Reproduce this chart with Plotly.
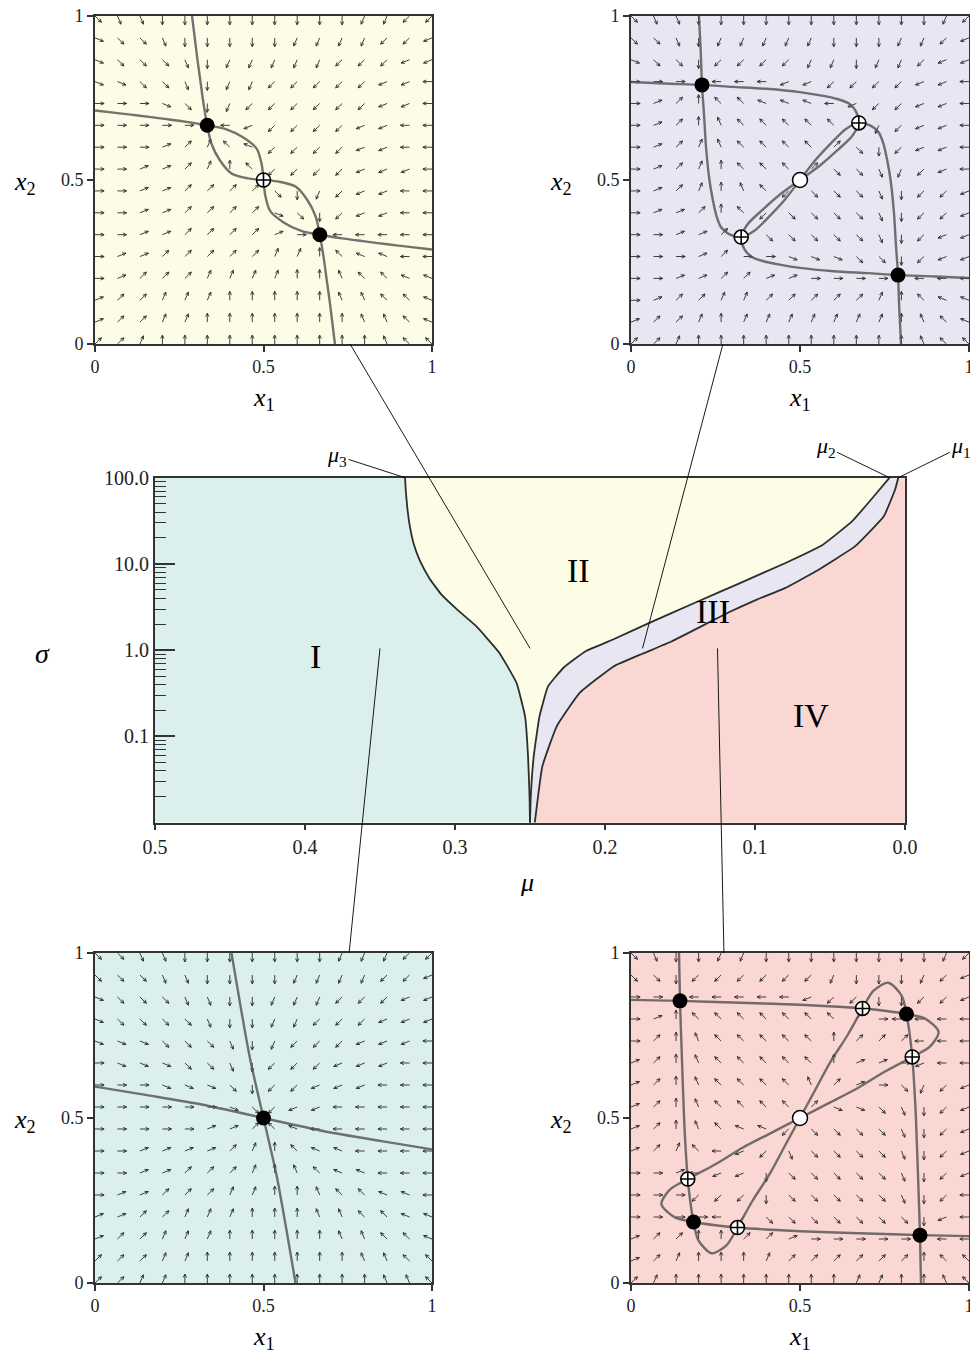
import math
import plotly.graph_objects as go
import plotly.figure_factory as ff

# page is 978 x 1353; the browser puts the figure 8 px in from the top-left corner
PAGE_W, PAGE_H = 978, 1353
OFF = 8
FW, FH = PAGE_W - OFF, PAGE_H - OFF
SERIF = "Liberation Serif, Times New Roman, serif"
INK = "#333333"

# region colours (shared by the phase diagram and the phase portraits)
C_I = "#dbf0ed"
C_II = "#fdfde7"
C_III = "#e7e6f2"
C_IV = "#fbd7d3"

# ---------------- phase portraits ----------------
grid = [0.0, 0.0667, 0.1333, 0.2, 0.2667, 0.3333, 0.4, 0.4667,
        0.5333, 0.6, 0.6667, 0.7333, 0.8, 0.8667, 0.9333, 1.0]

# arrow direction per grid point, rows from x2=1 (top) down to x2=0,
# hex digit k -> k*22.5 deg counter-clockwise from +x1, "." = no arrow (fixed point)
dirs_I = [
    "eeddcccccccbbbaa",
    "eeeddccccbbbbaa9",
    "feeeddccbbbaaa99",
    "feeeedccbbaaa999",
    "fffeeedcbaaa9998",
    "0fffeedcaaa99988",
    "000fffecaa999888",
    "000000fea9988888",
    "0000011267888888",
    "0011112346778888",
    "0011222345677888",
    "0112223344566778",
    "1122333444556677",
    "1223334444455667",
    "2223344444445566",
    "2233444444444556",
]
dirs_II = [
    "eddcccccccccbbaa",
    "feedcccccbbbbaa9",
    "feeedcbbbbbaaa99",
    "ffeedcbbaaaaa998",
    "000fecbaaaaaa998",
    "00000.89aaaa9988",
    "00012367aaaa9988",
    "00112346aaaa9998",
    "00112222ecba9988",
    "00112222feca9988",
    "0011222210.88888",
    "0112222233467788",
    "0122233334456677",
    "1223334444455667",
    "1223344444445567",
    "2234444444444566",
]
dirs_III = [
    "eddcccccccccccba",
    "eedcbbbbbcccbba9",
    "feecaaaabbcbba99",
    "000.88899aaaa998",
    "01246677789aa998",
    "0124566666.ba998",
    "0123566662eca998",
    "012346662eedba98",
    "0123456aeeedcaa9",
    "011246aeeeedcaa9",
    "00112.eeeeedca99",
    "0001200fffeeca99",
    "001122110000.888",
    "0122332222234677",
    "1223433333334567",
    "2234444444444566",
]
dirs_IV = [
    "edccbbccccccccba",
    "eecaaaaaabcccba9",
    "00.888889aaccaa9",
    "0146666666208888",
    "0245666664222888",
    "1245666664110988",
    "124566665210eba9",
    "124566662ffedca9",
    "1245677aeeeedca9",
    "123689adeeeedca9",
    "001899ceeeeedca9",
    "000aaaceeeeedca8",
    "00008aeeeeeeec98",
    "1224422100000.88",
    "1234443222222466",
    "2344444444334456",
]

# x1-nullcline of each portrait; the x2-nullcline is its mirror image (x1 <-> x2)
nc_I_x1 = [0.405, 0.43, 0.46, 0.5, 0.54, 0.57, 0.595]
nc_I_x2 = [1.0, 0.85, 0.68, 0.5, 0.32, 0.15, 0.0]

nc_II_x1 = [0.288, 0.296, 0.304, 0.313, 0.322, 0.333, 0.345, 0.37, 0.405, 0.454, 0.5,
            0.546, 0.595, 0.63, 0.655, 0.667, 0.678, 0.687, 0.696, 0.704, 0.712]
nc_II_x2 = [1.0, 0.933, 0.867, 0.8, 0.733, 0.667, 0.612, 0.561, 0.52, 0.505, 0.5,
            0.495, 0.48, 0.439, 0.388, 0.333, 0.267, 0.2, 0.133, 0.067, 0.0]

nc_III_x1 = [0.201, 0.206, 0.21, 0.216, 0.222, 0.232, 0.242, 0.253, 0.267, 0.29, 0.326,
             0.365, 0.41, 0.455, 0.5, 0.545, 0.59, 0.635, 0.674, 0.71, 0.733, 0.747,
             0.758, 0.768, 0.778, 0.784, 0.79, 0.794, 0.799]
nc_III_x2 = [1.0, 0.9, 0.79, 0.7, 0.6, 0.5, 0.44, 0.39, 0.355, 0.335, 0.326,
             0.345, 0.39, 0.44, 0.5, 0.56, 0.61, 0.655, 0.674, 0.665, 0.645, 0.61,
             0.56, 0.5, 0.4, 0.3, 0.21, 0.1, 0.0]

nc_IV_x1 = [0.142, 0.145, 0.15, 0.157, 0.162, 0.168, 0.175, 0.185, 0.199, 0.239, 0.283,
            0.315, 0.36, 0.41, 0.455, 0.5, 0.545, 0.59, 0.64, 0.685, 0.717, 0.761,
            0.801, 0.815, 0.825, 0.832, 0.838, 0.843, 0.85, 0.855, 0.858]
nc_IV_x2 = [1.0, 0.855, 0.7, 0.5, 0.4, 0.315, 0.25, 0.185, 0.13, 0.09, 0.115,
            0.168, 0.25, 0.33, 0.415, 0.5, 0.585, 0.67, 0.75, 0.832, 0.885, 0.91,
            0.87, 0.815, 0.75, 0.685, 0.6, 0.5, 0.3, 0.145, 0.0]

# fixed points: (x1 list, x2 list)
stable_I = ([0.5], [0.5])
saddle_I = ([], [])
source_I = ([], [])

stable_II = ([0.333, 0.667], [0.667, 0.333])
saddle_II = ([0.5], [0.5])
source_II = ([], [])

stable_III = ([0.21, 0.79], [0.79, 0.21])
saddle_III = ([0.326, 0.674], [0.326, 0.674])
source_III = ([0.5], [0.5])

stable_IV = ([0.145, 0.855, 0.185, 0.815], [0.855, 0.145, 0.185, 0.815])
saddle_IV = ([0.315, 0.168, 0.685, 0.832], [0.168, 0.315, 0.832, 0.685])
source_IV = ([0.5], [0.5])

# ---------------- phase diagram ----------------
mu3_mu = [0.3333, 0.3328, 0.3318, 0.3302, 0.3275, 0.3235, 0.317, 0.309, 0.298, 0.286,
          0.2705, 0.259, 0.2533, 0.2513, 0.2503, 0.25]
mu3_sigma = [100, 70, 45, 28, 17, 11, 6.8, 4.4, 2.9, 1.91,
             0.935, 0.419, 0.171, 0.059, 0.02, 0.01]

mu2_mu = [0.0103, 0.02, 0.035, 0.055, 0.08, 0.11, 0.14, 0.17, 0.195, 0.2127,
          0.2275, 0.238, 0.2437, 0.2475, 0.2495, 0.25]
mu2_sigma = [100, 63, 31.6, 16.6, 10.2, 6.0, 3.55, 2.09, 1.32, 0.98,
             0.63, 0.38, 0.17, 0.059, 0.02, 0.01]

mu1_mu = [0.0045, 0.0065, 0.014, 0.033, 0.06, 0.08, 0.0984, 0.1174, 0.1557, 0.175,
          0.194, 0.2169, 0.2322, 0.2418, 0.2468]
mu1_sigma = [100, 74, 36, 16.2, 8.1, 5.25, 3.89, 2.75, 1.26, 0.91,
             0.653, 0.32, 0.131, 0.0447, 0.01]

mu_ticks = [0.5, 0.4, 0.3, 0.2, 0.1, 0.0]
mu_ticktext = ["0.5", "0.4", "0.3", "0.2", "0.1", "0.0"]
sigma_ticks = [0.1, 1, 10, 100]
sigma_ticktext = ["0.1", "1.0", "10.0", "100.0"]
sigma_minor = [0.02, 0.03, 0.04, 0.05, 0.06, 0.07, 0.08, 0.09,
               0.2, 0.3, 0.4, 0.5, 0.6, 0.7, 0.8, 0.9,
               2, 3, 4, 5, 6, 7, 8, 9,
               20, 30, 40, 50, 60, 70, 80, 90]

region_names = ["I", "II", "III", "IV"]
region_mu = [0.393, 0.218, 0.128, 0.063]
region_sigma = [0.85, 8.5, 2.8, 0.174]

# leader lines: portrait edge point -> parameter point in the diagram
link_panel = ["II", "III", "I", "IV"]
link_x1 = [0.757, 0.272, 0.754, 0.275]
link_x2 = [0.0, 0.0, 1.0, 1.0]
link_mu = [0.25, 0.175, 0.35, 0.125]
link_sigma = [1.05, 1.05, 1.05, 1.05]

# page-pixel boxes (left, right, top, bottom)
CENTER_BOX = (155, 905, 477.7, 822.7)
panels = [
    dict(name="II", n="", box=(95, 432, 16, 344), bg=C_II, dirs=dirs_II,
         nc=(nc_II_x1, nc_II_x2), stable=stable_II, saddle=saddle_II, source=source_II),
    dict(name="III", n="2", box=(631, 969, 16, 344), bg=C_III, dirs=dirs_III,
         nc=(nc_III_x1, nc_III_x2), stable=stable_III, saddle=saddle_III, source=source_III),
    dict(name="I", n="3", box=(95, 432, 953, 1283), bg=C_I, dirs=dirs_I,
         nc=(nc_I_x1, nc_I_x2), stable=stable_I, saddle=saddle_I, source=source_I),
    dict(name="IV", n="4", box=(631, 969, 953, 1283), bg=C_IV, dirs=dirs_IV,
         nc=(nc_IV_x1, nc_IV_x2), stable=stable_IV, saddle=saddle_IV, source=source_IV),
]


def px2paper(px, py):
    return (px - OFF) / FW, 1 - (py - OFF) / FH


def domains(box):
    l, r, t, b = box
    x0, y1 = px2paper(l, t)
    x1, y0 = px2paper(r, b)
    return [x0, x1], [y0, y1]


def to_paper(box, xr, yr, xv, yv, ylog=False):
    l, r, t, b = box
    fx = (xv - xr[0]) / (xr[1] - xr[0])
    yy = math.log10(yv) if ylog else yv
    fy = (yy - yr[0]) / (yr[1] - yr[0])
    return px2paper(l + fx * (r - l), b - fy * (b - t))


def label(px, py, text, size):
    x, y = px2paper(px, py)
    return dict(xref="paper", yref="paper", x=x, y=y, text=text, showarrow=False,
                xanchor="center", yanchor="middle",
                font=dict(family=SERIF, size=size, color="black"))


def quiver_trace(dirs, xa, ya):
    xs, ys, us, vs = [], [], [], []
    for r, row in enumerate(dirs):
        for c, ch in enumerate(row):
            if ch == ".":
                continue
            ang = math.radians(int(ch, 16) * 22.5)
            xs.append(grid[c])
            ys.append(grid[len(dirs) - 1 - r])
            us.append(math.cos(ang))
            vs.append(math.sin(ang))
    q = ff.create_quiver(xs, ys, us, vs, scale=0.027, arrow_scale=0.42, angle=math.pi / 7,
                         line=dict(color="#2a2a2a", width=0.9), hoverinfo="skip")
    tr = q.data[0]
    tr.update(xaxis=xa, yaxis=ya, showlegend=False)
    return tr


fig = go.Figure()
shapes = []
annotations = []
axes_layout = {}

phase_ax = dict(range=[0, 1], tickvals=[0, 0.5, 1], ticktext=["0", "0.5", "1"],
                ticks="outside", ticklen=6, tickwidth=1.5, tickcolor=INK,
                showline=True, linewidth=1.6, linecolor=INK, mirror=True,
                showgrid=False, zeroline=False, fixedrange=True, automargin=False,
                ticklabeloverflow="allow",
                tickfont=dict(family=SERIF, size=18, color="#222"))

for p in panels:
    n = p["n"]
    xa, ya = "x" + n, "y" + n
    xd, yd = domains(p["box"])
    axes_layout["xaxis" + n] = dict(phase_ax, domain=xd, anchor=ya)
    axes_layout["yaxis" + n] = dict(phase_ax, domain=yd, anchor=xa)
    shapes.append(dict(type="rect", xref=xa + " domain", yref=ya + " domain",
                       x0=0, x1=1, y0=0, y1=1, fillcolor=p["bg"], line_width=0, layer="below"))

    fig.add_trace(quiver_trace(p["dirs"], xa, ya))

    ncx, ncy = p["nc"]
    for cx, cy in ((ncx, ncy), (ncy, ncx)):
        fig.add_trace(go.Scatter(x=cx, y=cy, mode="lines", xaxis=xa, yaxis=ya,
                                 line=dict(color="rgba(80,80,80,0.8)", width=2.4,
                                           shape="spline", smoothing=0.8),
                                 hoverinfo="skip", showlegend=False))

    fig.add_trace(go.Scatter(x=p["stable"][0], y=p["stable"][1], mode="markers",
                             xaxis=xa, yaxis=ya, marker=dict(size=15, color="black"),
                             hoverinfo="skip", showlegend=False))
    fig.add_trace(go.Scatter(x=p["saddle"][0], y=p["saddle"][1], mode="markers",
                             xaxis=xa, yaxis=ya,
                             marker=dict(size=14, color="white", symbol="circle-cross",
                                         line=dict(color="black", width=1.6)),
                             hoverinfo="skip", showlegend=False))
    fig.add_trace(go.Scatter(x=p["source"][0], y=p["source"][1], mode="markers",
                             xaxis=xa, yaxis=ya,
                             marker=dict(size=15, color="white", symbol="circle",
                                         line=dict(color="black", width=1.5)),
                             hoverinfo="skip", showlegend=False))

    l, r, t, b = p["box"]
    annotations.append(label((l + r) / 2, b + 55, "<i>x</i><sub>1</sub>", 26))
    annotations.append(label(l - 70, (t + b) / 2 + 3, "<i>x</i><sub>2</sub>", 26))

# ---------------- central phase diagram ----------------
cxd, cyd = domains(CENTER_BOX)
MU_RANGE = [0.5, 0.0]
LOGS_RANGE = [-2, 2]

fill_sets = [
    ([0.5] + mu3_mu + [0.5], [100] + mu3_sigma + [0.01], C_I),
    (mu3_mu + mu2_mu[::-1], mu3_sigma + mu2_sigma[::-1], C_II),
    (mu2_mu + mu1_mu[::-1], mu2_sigma + mu1_sigma[::-1], C_III),
    (mu1_mu + [0.0, 0.0], mu1_sigma + [0.01, 100], C_IV),
]
for fx, fy, col in fill_sets:
    fig.add_trace(go.Scatter(x=fx, y=fy, mode="lines", fill="toself", fillcolor=col,
                             line=dict(width=0), xaxis="x5", yaxis="y5",
                             hoverinfo="skip", showlegend=False))

for bx, by in ((mu3_mu, mu3_sigma), (mu2_mu, mu2_sigma), (mu1_mu, mu1_sigma)):
    fig.add_trace(go.Scatter(x=bx, y=by, mode="lines", xaxis="x5", yaxis="y5",
                             line=dict(color="#2a2f2c", width=1.8, shape="spline", smoothing=0.35),
                             hoverinfo="skip", showlegend=False))

axes_layout["xaxis5"] = dict(domain=cxd, anchor="y5", range=MU_RANGE, tickvals=mu_ticks,
                             ticktext=mu_ticktext, ticks="outside", ticklen=5, tickwidth=1.5,
                             tickcolor=INK, showline=True, linewidth=2, linecolor=INK,
                             mirror=True, showgrid=False, zeroline=False, fixedrange=True,
                             automargin=False, ticklabeloverflow="allow",
                             tickfont=dict(family=SERIF, size=20, color="#222"))
axes_layout["yaxis5"] = dict(domain=cyd, anchor="x5", type="log", range=LOGS_RANGE,
                             tickvals=sigma_ticks, ticktext=sigma_ticktext, ticks="inside",
                             ticklen=20, tickwidth=1.6, tickcolor=INK, showline=True,
                             linewidth=2, linecolor=INK, mirror=True, showgrid=False,
                             zeroline=False, fixedrange=True, automargin=False,
                             ticklabeloverflow="allow",
                             minor=dict(tickvals=sigma_minor, ticks="inside", ticklen=11,
                                        tickwidth=1.2, tickcolor=INK, showgrid=False),
                             tickfont=dict(family=SERIF, size=20, color="#222"))

for name, m, s in zip(region_names, region_mu, region_sigma):
    annotations.append(dict(xref="x5", yref="y5", x=m, y=math.log10(s), text=name,
                            showarrow=False, xanchor="center", yanchor="middle",
                            font=dict(family=SERIF, size=34, color="black")))

annotations.append(label(42, 653, "<i>σ</i>", 28))
annotations.append(label(527, 882, "<i>μ</i>", 26))

# labels of the critical values where the boundaries meet sigma = 100
crit_text = ["<i>μ</i><sub>3</sub>", "<i>μ</i><sub>2</sub>", "<i>μ</i><sub>1</sub>"]
crit_mu = [mu3_mu[0], mu2_mu[0], mu1_mu[0]]
crit_ax = [-68, -64, 63]
crit_ay = [-22, -31, -31]
for t, m, dx, dy in zip(crit_text, crit_mu, crit_ax, crit_ay):
    annotations.append(dict(xref="x5", yref="y5", x=m, y=2, text=t, showarrow=True,
                            arrowhead=0, arrowwidth=0.9, arrowcolor="black", ax=dx, ay=dy,
                            standoff=0, font=dict(family=SERIF, size=22, color="black")))

box_of = {p["name"]: p["box"] for p in panels}
for name, a1, a2, m, s in zip(link_panel, link_x1, link_x2, link_mu, link_sigma):
    px0, py0 = to_paper(box_of[name], [0, 1], [0, 1], a1, a2)
    px1, py1 = to_paper(CENTER_BOX, MU_RANGE, LOGS_RANGE, m, s, ylog=True)
    shapes.append(dict(type="line", xref="paper", yref="paper", x0=px0, y0=py0,
                       x1=px1, y1=py1, line=dict(color="black", width=0.9), layer="above"))

fig.update_layout(
    width=FW, height=FH,
    margin=dict(l=0, r=0, t=0, b=0, pad=0, autoexpand=False),
    paper_bgcolor="white", plot_bgcolor="white",
    showlegend=False,
    shapes=shapes,
    annotations=annotations,
    **axes_layout,
)

fig.write_html("out.html")
